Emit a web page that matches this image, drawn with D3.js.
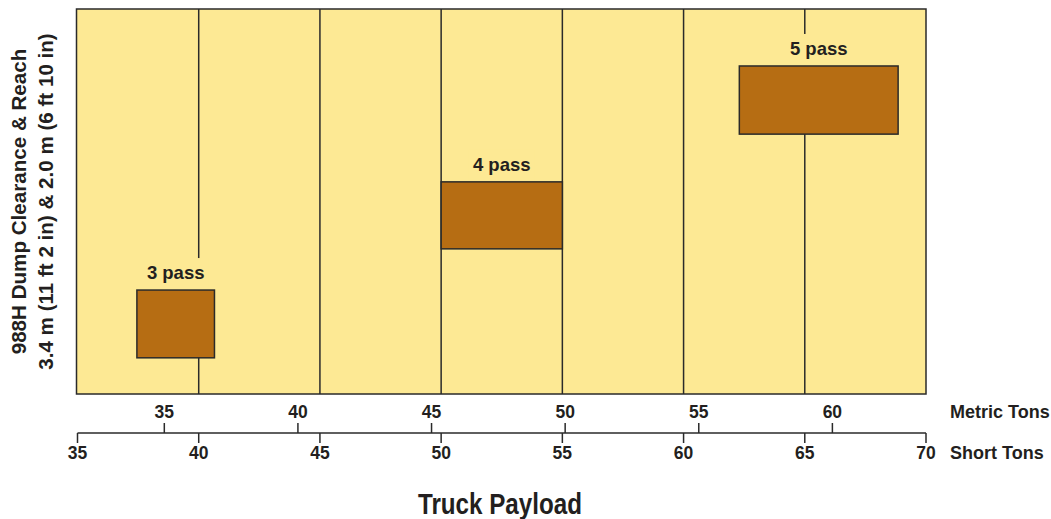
<!DOCTYPE html>
<html>
<head>
<meta charset="utf-8">
<script src="https://cdn.jsdelivr.net/npm/d3@7"></script>
<style>
  html, body { margin: 0; padding: 0; background: #ffffff; }
  svg { display: block; }
  text { font-family: "Liberation Sans", Arial, Helvetica, sans-serif; font-weight: bold; fill: #231f20; }
</style>
</head>
<body>
<script>
// ---- data ----
const passLabels   = ["3 pass", "4 pass", "5 pass"];
const payloadLow   = [37.45, 50, 62.3];     // short tons
const payloadHigh  = [40.65, 55, 68.85];    // short tons
const reachLow     = [9.4, 37.7, 67.5];     // relative vertical position (0-100)
const reachHigh    = [27, 55.1, 85.2];
const shortTicks   = [35, 40, 45, 50, 55, 60, 65, 70];
const metricTicks  = [35, 40, 45, 50, 55, 60];
const gridTicks    = [40, 45, 50, 55, 60, 65];
const yLabelLines  = ["988H Dump Clearance & Reach", "3.4 m (11 ft 2 in) & 2.0 m (6 ft 10 in)"];
const xTitle       = "Truck Payload";
const metricName   = "Metric Tons";
const shortName    = "Short Tons";
const tonRatio     = 1.10231; // short tons per metric ton

(function () {
const W = 1051, H = 519;
const pL = 77.5, pR = 926, pT = 9, pB = 394;
const axisY = 433;
const bg = "#fde994", boxFill = "#b66d13", ink = "#2a2a2a";

const svg = d3.select("body").append("svg").attr("width", W).attr("height", H);

const x = d3.scaleLinear().domain([35, 70]).range([pL, pR]);
const xm = d3.scaleLinear().domain([35 / tonRatio, 70 / tonRatio]).range([pL, pR]);
const y = d3.scaleLinear().domain([0, 100]).range([pB, pT]);

// plot background
svg.append("rect")
  .attr("x", 76.5).attr("y", pT)
  .attr("width", pR - 76.5).attr("height", pB - pT)
  .attr("fill", bg);

// gridlines
svg.append("g").selectAll("line").data(gridTicks).join("line")
  .attr("x1", d => x(d)).attr("x2", d => x(d))
  .attr("y1", pT).attr("y2", pB)
  .attr("stroke", ink).attr("stroke-width", 1.5);

const data = passLabels.map((p, i) => ({
  label: p, x0: payloadLow[i], x1: payloadHigh[i], y0: reachLow[i], y1: reachHigh[i]
}));

const g = svg.append("g");
const bgG = g.append("g");
const boxG = g.append("g");
const lblG = g.append("g");

const labels = lblG.selectAll("text").data(data).join("text")
  .attr("x", d => (x(d.x0) + x(d.x1)) / 2)
  .attr("y", d => y(d.y1) - 11)
  .attr("text-anchor", "middle")
  .attr("font-size", 18.5)
  .text(d => d.label);

labels.each(function(d) { d.lw = this.getBBox().width; });

bgG.selectAll("rect").data(data).join("rect")
  .attr("x", d => (x(d.x0) + x(d.x1)) / 2 - d.lw / 2 - 4)
  .attr("width", d => d.lw + 8)
  .attr("y", d => y(d.y1) - 32)
  .attr("height", 32)
  .attr("fill", bg);

boxG.selectAll("rect").data(data).join("rect")
  .attr("x", d => x(d.x0)).attr("width", d => x(d.x1) - x(d.x0))
  .attr("y", d => y(d.y1)).attr("height", d => y(d.y0) - y(d.y1))
  .attr("fill", boxFill).attr("stroke", ink).attr("stroke-width", 1.5);

// frame
svg.append("rect")
  .attr("x", 76.5).attr("y", pT)
  .attr("width", pR - 76.5).attr("height", pB - pT)
  .attr("fill", "none").attr("stroke", ink).attr("stroke-width", 1.5);

// dual axis
const axG = svg.append("g");
axG.append("line")
  .attr("x1", x(35)).attr("x2", x(70)).attr("y1", axisY).attr("y2", axisY)
  .attr("stroke", ink).attr("stroke-width", 1.5);

axG.selectAll("line.st").data(shortTicks).join("line")
  .attr("class", "st")
  .attr("x1", d => x(d)).attr("x2", d => x(d))
  .attr("y1", axisY).attr("y2", axisY + 10)
  .attr("stroke", ink).attr("stroke-width", 1.5);
axG.selectAll("text.st").data(shortTicks).join("text")
  .attr("class", "st")
  .attr("x", d => x(d)).attr("y", axisY + 26)
  .attr("text-anchor", "middle").attr("font-size", 17.5)
  .text(d => d);

axG.selectAll("line.mt").data(metricTicks).join("line")
  .attr("class", "mt")
  .attr("x1", d => xm(d)).attr("x2", d => xm(d))
  .attr("y1", axisY).attr("y2", axisY - 10)
  .attr("stroke", ink).attr("stroke-width", 1.5);
axG.selectAll("text.mt").data(metricTicks).join("text")
  .attr("class", "mt")
  .attr("x", d => xm(d)).attr("y", axisY - 15)
  .attr("text-anchor", "middle").attr("font-size", 17.5)
  .text(d => d);

axG.append("text").attr("x", 950).attr("y", axisY - 15)
  .attr("font-size", 18).text(metricName);
axG.append("text").attr("x", 950).attr("y", axisY + 26)
  .attr("font-size", 18).text(shortName);

// x title (condensed look via textLength)
svg.append("text")
  .attr("x", 500).attr("y", 514)
  .attr("text-anchor", "middle")
  .attr("font-size", 29)
  .attr("textLength", 164)
  .attr("lengthAdjust", "spacingAndGlyphs")
  .text(xTitle);

// y title (two lines, rotated)
const yc = 201.5;
svg.selectAll("text.yl").data(yLabelLines).join("text")
  .attr("class", "yl")
  .attr("transform", (d, i) => `translate(${i === 0 ? 25.5 : 52.5},${yc}) rotate(-90)`)
  .attr("text-anchor", "middle")
  .attr("font-size", 20.6)
  .text(d => d);
})();
</script>
</body>
</html>
